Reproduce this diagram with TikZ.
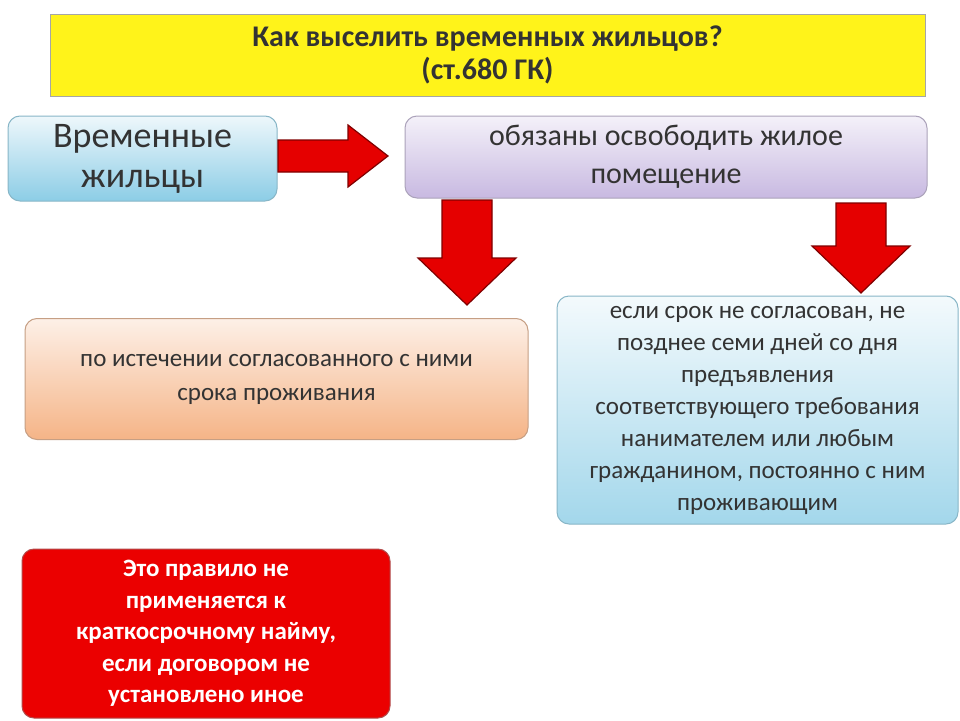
\documentclass[tikz,border=0pt]{standalone}
\usepackage{fontspec}
\setmainfont{Carlito}
\usetikzlibrary{shapes.arrows}
\definecolor{lblue}{RGB}{140,205,230}
\definecolor{lviol}{RGB}{200,185,225}
\definecolor{lor}{RGB}{245,180,135}
\begin{document}
\begin{tikzpicture}[x=1pt,y=-1pt,
 box/.style={draw=#1,rounded corners=12pt,line width=1pt,align=center,text=black!80},
 rarrow/.style={draw=red!50!black,fill=red!90!black,line width=1.2pt}]
\useasboundingbox (0,0) rectangle (960,720);
\fill[white] (0,0) rectangle (960,720);
\node[draw=gray!70,fill=yellow!90!white,line width=1pt,minimum width=875pt,minimum height=82pt,align=center,font=\fontsize{30}{33}\selectfont\bfseries,text=black!80] (title) at (487.5,55) {Как выселить временных жильцов?\\(ст.680 ГК)};
\node[box=lblue!70!gray,top color=lblue!15,bottom color=lblue,minimum width=269pt,minimum height=85pt,font=\fontsize{36}{40}\selectfont] (tmp) at (142.5,158.5) {Временные\\жильцы};
\node[box=lviol!60!gray,top color=lviol!20,bottom color=lviol,minimum width=522pt,minimum height=82pt,font=\fontsize{30}{38}\selectfont] (obl) at (666,157) {обязаны освободить жилое\\помещение};
\node[box=lor!60!gray,top color=lor!20,bottom color=lor,minimum width=503pt,minimum height=121pt,font=\fontsize{25}{34}\selectfont] (ist) at (276.5,379) {по истечении согласованного с ними\\срока проживания};
\node[box=lblue!70!gray,top color=lblue!10,bottom color=lblue!80,minimum width=401pt,minimum height=228pt,font=\fontsize{25}{32}\selectfont] (srok) at (757.5,410) {если срок не согласован, не\\позднее семи дней со дня\\предъявления\\соответствующего требования\\нанимателем или любым\\гражданином, постоянно с ним\\проживающим};
\node[draw=red!40!gray,fill=red!92!black,rounded corners=12pt,line width=1pt,minimum width=368pt,minimum height=169pt,align=center,text=white,font=\fontsize{25}{31.5}\selectfont\bfseries] (rule) at (206,633.5) {Это правило не\\применяется к\\краткосрочному найму,\\если договором не\\установлено иное};
\draw[rarrow] (278,140) -- (348,140) -- (348,125) -- (388,156) -- (348,187) -- (348,172) -- (278,172) -- cycle;
\draw[rarrow] (442,200) -- (492,200) -- (492,258) -- (516,258) -- (467,305) -- (418,258) -- (442,258) -- cycle;
\draw[rarrow] (836,203) -- (886,203) -- (886,246) -- (910,246) -- (861,293) -- (812,246) -- (836,246) -- cycle;
\end{tikzpicture}
\end{document}
